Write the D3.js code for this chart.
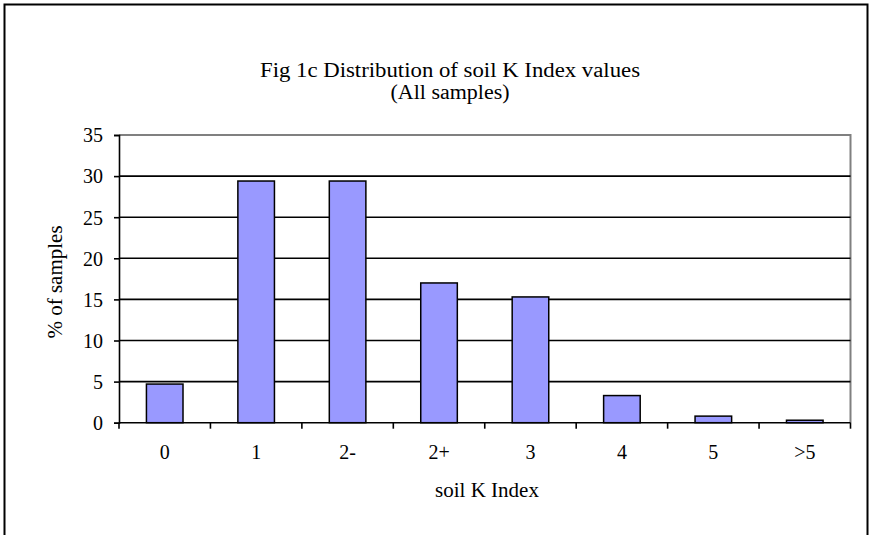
<!DOCTYPE html>
<html>
<head>
<meta charset="utf-8">
<script src="https://cdn.jsdelivr.net/npm/d3@7"></script>
<style>
  html, body { margin: 0; padding: 0; background: #fff; }
  svg { display: block; }
  text { font-family: "Liberation Serif", "Times New Roman", serif; fill: #000; }
</style>
</head>
<body>
<svg id="chart" width="870" height="535"></svg>
<script>
const categories = ["0", "1", "2-", "2+", "3", "4", "5", ">5"];
const values = [4.7, 29.4, 29.4, 17.0, 15.3, 3.3, 0.8, 0.3];
const yTicks = [0, 5, 10, 15, 20, 25, 30, 35];
const titleLines = ["Fig 1c Distribution of soil K Index values", "(All samples)"];
const xTitle = "soil K Index";
const yTitle = "% of samples";

const svg = d3.select("#chart");
const W = 870, H = 535;
const margin = { left: 119, right: 19.5, top: 135, bottom: 112.3 };
const x0 = margin.left, x1 = W - margin.right;
const y0 = H - margin.bottom, y1 = margin.top;

// outer chart border
svg.append("rect")
  .attr("x", 4.5).attr("y", 4.5)
  .attr("width", 863).attr("height", 545)
  .attr("fill", "#fff").attr("stroke", "#000").attr("stroke-width", 2);

const x = d3.scaleBand().domain(categories).range([x0, x1]).paddingInner(0.6).paddingOuter(0.3);
const y = d3.scaleLinear().domain([0, 35]).range([y0, y1]);

// plot area border (gray top/right)
svg.append("path")
  .attr("d", `M${x0},${y1}H${x1}V${y0}`)
  .attr("fill", "none").attr("stroke", "#808080").attr("stroke-width", 2);

// gridlines
svg.append("g").selectAll("line")
  .data(yTicks.filter(d => d > 0 && d < 35))
  .join("line")
  .attr("x1", x0).attr("x2", x1)
  .attr("y1", d => y(d)).attr("y2", d => y(d))
  .attr("stroke", "#000").attr("stroke-width", 1.6);

// bars
svg.append("g").selectAll("rect")
  .data(categories.map((c, i) => ({ c, v: values[i] })))
  .join("rect")
  .attr("x", d => x(d.c))
  .attr("width", x.bandwidth())
  .attr("y", d => y(d.v))
  .attr("height", d => y(0) - y(d.v))
  .attr("fill", "#9999FF")
  .attr("stroke", "#000").attr("stroke-width", 1.5);

// y axis
const yAxis = d3.axisLeft(y).tickValues(yTicks).tickSize(5).tickPadding(11).tickFormat(d3.format("d"));
const gy = svg.append("g").attr("transform", `translate(${x0},0)`).call(yAxis);
gy.select(".domain").attr("stroke", "#000").attr("stroke-width", 1.6);
gy.selectAll(".tick line").attr("stroke", "#000").attr("stroke-width", 1.6);
gy.selectAll(".tick text").attr("font-size", 20).attr("dy", "0.34em");

// x axis
const xEdge = d3.scaleLinear().domain([0, categories.length]).range([x0, x1]);
const gx = svg.append("g").attr("transform", `translate(0,${y0})`);
gx.append("line").attr("x1", x0).attr("x2", x1).attr("y1", 0).attr("y2", 0)
  .attr("stroke", "#000").attr("stroke-width", 1.6);
gx.selectAll("line.tk").data(d3.range(categories.length + 1)).join("line")
  .attr("class", "tk")
  .attr("x1", d => xEdge(d)).attr("x2", d => xEdge(d))
  .attr("y1", 0).attr("y2", 6)
  .attr("stroke", "#000").attr("stroke-width", 1.6);
gx.selectAll("text").data(categories).join("text")
  .attr("x", d => x(d) + x.bandwidth() / 2)
  .attr("y", 36)
  .attr("text-anchor", "middle")
  .attr("font-size", 20)
  .text(d => d);

// titles
svg.append("text").attr("x", 450).attr("y", 77).attr("text-anchor", "middle")
  .attr("font-size", 20).attr("textLength", 380).attr("lengthAdjust", "spacingAndGlyphs")
  .text(titleLines[0]);
svg.append("text").attr("x", 450).attr("y", 99).attr("text-anchor", "middle")
  .attr("font-size", 20).attr("textLength", 119).attr("lengthAdjust", "spacingAndGlyphs")
  .text(titleLines[1]);

svg.append("text").attr("x", 487).attr("y", 497).attr("text-anchor", "middle")
  .attr("font-size", 21).text(xTitle);

svg.append("text")
  .attr("transform", `translate(62,282) rotate(-90)`)
  .attr("text-anchor", "middle")
  .attr("font-size", 21).text(yTitle);
</script>
</body>
</html>
